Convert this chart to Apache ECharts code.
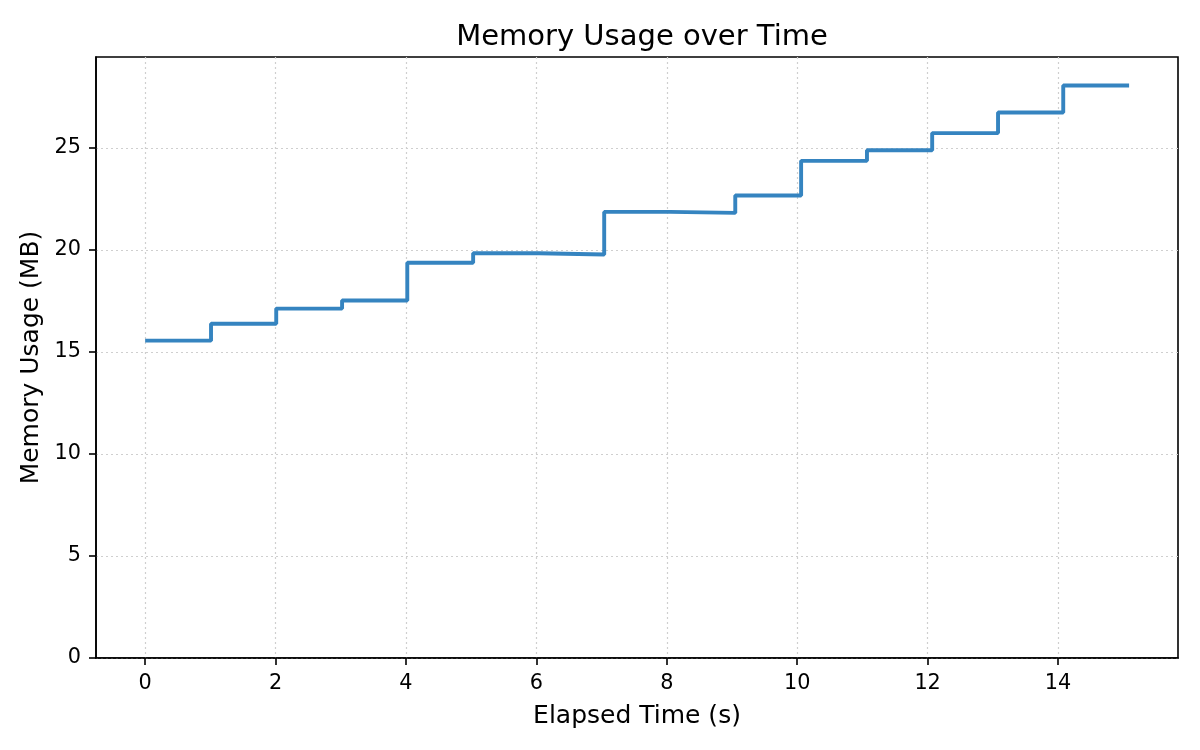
<!DOCTYPE html>
<html>
<head>
<meta charset="utf-8">
<script src="https://cdn.jsdelivr.net/npm/echarts@6/dist/echarts.min.js"></script>
<style>
  html, body { margin: 0; padding: 0; background: #fff; }
  #main { width: 1200px; height: 750px; }
</style>
</head>
<body>
<div id="main"></div>
<script>
// elapsed time (s) of each sample and memory reading (MB)
var elapsed = [0, 1.01, 2.01, 3.02, 4.02, 5.03, 6.04, 7.04, 8.05, 9.05, 10.06, 11.07, 12.07, 13.08, 14.08, 15.09];
var memory = [15.55, 16.38, 17.12, 17.52, 19.37, 19.83, 19.77, 21.86, 21.81, 22.66, 24.36, 24.88, 25.72, 26.73, 28.05, 28.05];
var xTicks = [0, 2, 4, 6, 8, 10, 12, 14];
var yTicks = [0, 5, 10, 15, 20, 25];

var points = [];
for (var i = 0; i < elapsed.length; i++) {
  points.push([elapsed[i], memory[i]]);
}

var font = 'DejaVu Sans';
var dom = document.getElementById('main');
var myChart = echarts.init(dom);

var option = {
  backgroundColor: '#fff',
  animation: false,
  title: {
    text: 'Memory Usage over Time',
    left: 637,
    textAlign: 'center',
    top: 18,
    textStyle: { fontFamily: font, fontSize: 29, fontWeight: 'normal', color: '#000' }
  },
  grid: {
    left: 96, right: 22, top: 57, bottom: 92,
    show: true,
    borderColor: '#000',
    borderWidth: 1.6
  },
  xAxis: {
    type: 'value',
    min: -0.754,
    max: 15.84,
    name: 'Elapsed Time (s)',
    nameLocation: 'middle',
    nameGap: 46,
    nameTextStyle: { fontFamily: font, fontSize: 25, color: '#000' },
    axisLine: { show: true, onZero: false, lineStyle: { color: '#000', width: 1.6 } },
    axisTick: { show: true, length: 7, customValues: xTicks, lineStyle: { color: '#000', width: 1.6 } },
    axisLabel: { customValues: xTicks, margin: 15, fontFamily: font, fontSize: 20.8, color: '#000' },
    splitLine: { show: true, lineStyle: { color: '#cfcfcf', width: 1.2, type: [2, 3] } }
  },
  yAxis: {
    type: 'value',
    min: 0,
    max: 29.45,
    name: 'Memory Usage (MB)',
    nameLocation: 'middle',
    nameGap: 51,
    nameTextStyle: { fontFamily: font, fontSize: 25, color: '#000' },
    axisLine: { show: true, onZero: false, lineStyle: { color: '#000', width: 1.6 } },
    axisTick: { show: true, length: 7, customValues: yTicks, lineStyle: { color: '#000', width: 1.6 } },
    axisLabel: { customValues: yTicks, margin: 15, fontFamily: font, fontSize: 20.8, color: '#000' },
    splitLine: { show: true, lineStyle: { color: '#cfcfcf', width: 1.2, type: [2, 3] } }
  },
  series: [{
    name: 'Memory',
    type: 'line',
    step: 'end',
    symbol: 'none',
    data: points,
    lineStyle: { color: '#3584c0', width: 3.9 },
    itemStyle: { color: '#3584c0' }
  }]
};

myChart.setOption(option);
</script>
</body>
</html>
